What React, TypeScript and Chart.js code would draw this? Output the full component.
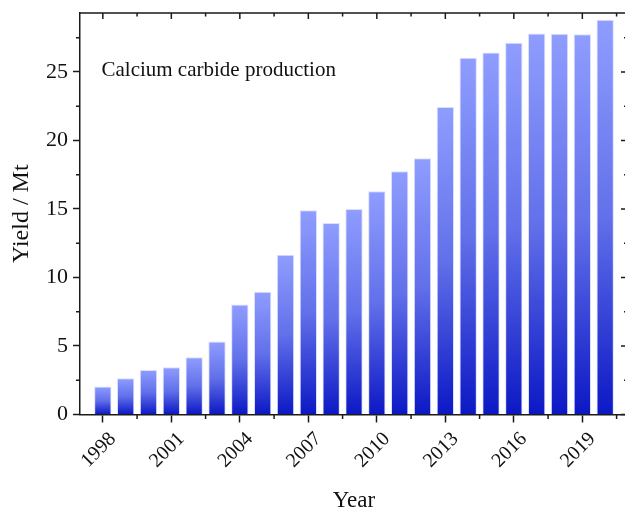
import React, { useEffect, useRef } from "react";
import { Chart, registerables } from "chart.js";

Chart.register(...registerables);

const years = [1998, 1999, 2000, 2001, 2002, 2003, 2004, 2005, 2006, 2007, 2008, 2009, 2010, 2011, 2012, 2013, 2014, 2015, 2016, 2017, 2018, 2019, 2020];
const production = [2.04, 2.64, 3.25, 3.44, 4.17, 5.33, 8.03, 8.95, 11.65, 14.9, 13.97, 15.0, 16.3, 17.75, 18.7, 22.44, 26.03, 26.42, 27.12, 27.8, 27.78, 27.75, 28.8];
const xTickYears = [1998, 2001, 2004, 2007, 2010, 2013, 2016, 2019];
const xMinorTicks = [1999.5, 2002.5, 2005.5, 2008.5, 2011.5, 2014.5, 2017.5, 2020.5];
const yTickValues = [0, 5, 10, 15, 20, 25];
const yMinorTicks = [2.5, 7.5, 12.5, 17.5, 22.5, 27.5];
const annotationText = "Calcium carbide production";
const xTitle = "Year";
const yTitle = "Yield / Mt";

const FONT = "'Liberation Serif', 'Times New Roman', serif";
const AXIS = "#1a1a1a";

const framePlugin = {
  id: "frame",
  afterDraw(chart: any) {
    const { ctx, chartArea: a, scales } = chart;
    const xs = scales.x;
    const ys = scales.y;
    ctx.save();
    ctx.strokeStyle = AXIS;
    ctx.lineWidth = 1.5;
    ctx.beginPath();
    ctx.moveTo(a.left, a.top);
    ctx.lineTo(a.right, a.top);
    ctx.moveTo(a.right, a.top);
    ctx.lineTo(a.right, a.bottom);
    xTickYears.forEach((v) => {
      const px = xs.getPixelForValue(v);
      ctx.moveTo(px, a.top);
      ctx.lineTo(px, a.top + 6);
    });
    xMinorTicks.forEach((v) => {
      const px = xs.getPixelForValue(v);
      ctx.moveTo(px, a.top);
      ctx.lineTo(px, a.top + 3.5);
      ctx.moveTo(px, a.bottom);
      ctx.lineTo(px, a.bottom + 4.5);
    });
    yTickValues.forEach((v) => {
      const py = ys.getPixelForValue(v);
      ctx.moveTo(a.right, py);
      ctx.lineTo(a.right - 7, py);
    });
    yMinorTicks.forEach((v) => {
      const py = ys.getPixelForValue(v);
      ctx.moveTo(a.right, py);
      ctx.lineTo(a.right - 4, py);
      ctx.moveTo(a.left, py);
      ctx.lineTo(a.left - 4, py);
    });
    ctx.stroke();
    ctx.fillStyle = "#111";
    ctx.font = `21px ${FONT}`;
    ctx.textBaseline = "alphabetic";
    ctx.textAlign = "left";
    ctx.fillText(annotationText, xs.getPixelForValue(1997.94), ys.getPixelForValue(24.7));
    ctx.restore();
  },
};

export default function App() {
  const ref = useRef<HTMLCanvasElement | null>(null);

  useEffect(() => {
    if (!ref.current) return;
    Chart.defaults.font.family = FONT;
    const chart = new Chart(ref.current, {
      type: "bar",
      data: {
        datasets: [
          {
            data: years.map((y, i) => ({ x: y, y: production[i] })),
            backgroundColor: (c: any) => {
              const ch = c.chart;
              if (!ch.chartArea || c.type !== "data") return "rgb(120,135,250)";
              const ys = ch.scales.y;
              const top = ys.getPixelForValue(c.parsed.y);
              const base = ys.getPixelForValue(0);
              const g = ch.ctx.createLinearGradient(0, top, 0, base);
              g.addColorStop(0, "rgb(143,157,255)");
              g.addColorStop(0.5, "rgb(98,112,234)");
              g.addColorStop(1, "rgb(12,24,196)");
              return g;
            },
            borderColor: "rgba(218,224,255,1)",
            borderWidth: 1,
            barPercentage: 0.76,
            categoryPercentage: 1,
          },
        ],
      },
      plugins: [framePlugin],
      options: {
        animation: false,
        responsive: false,
        layout: { padding: { top: 13, right: 4, left: 0, bottom: 0 } },
        plugins: { legend: { display: false }, tooltip: { enabled: false } },
        scales: {
          x: {
            type: "linear",
            min: 1997,
            max: 2021,
            offset: false,
            afterFit: (s: any) => {
              s.height = 97.5;
              s.paddingLeft = 0;
              s.paddingRight = 0;
              s.paddingTop = 0;
              s.paddingBottom = 0;
            },
            afterBuildTicks: (s: any) => {
              s.ticks = xTickYears.map((v) => ({ value: v }));
            },
            grid: {
              offset: false,
              drawOnChartArea: false,
              drawTicks: true,
              tickLength: 8,
              tickWidth: 1.5,
              tickColor: AXIS,
            },
            border: { display: true, color: AXIS, width: 1.5 },
            ticks: {
              autoSkip: false,
              minRotation: 45,
              maxRotation: 45,
              padding: 5,
              labelOffset: 10,
              color: "#111",
              font: { size: 20, family: FONT },
              callback: (v: any) => String(v),
            },
            title: {
              display: true,
              text: xTitle,
              color: "#111",
              font: { size: 23, family: FONT, lineHeight: 1 },
              padding: { top: 0, bottom: 0 },
            },
          },
          y: {
            min: 0,
            max: 29.3,
            afterFit: (s: any) => {
              s.width = 80;
              s.paddingLeft = 0;
              s.paddingRight = 0;
              s.paddingTop = 0;
              s.paddingBottom = 0;
            },
            afterBuildTicks: (s: any) => {
              s.ticks = yTickValues.map((v) => ({ value: v }));
            },
            grid: {
              drawOnChartArea: false,
              drawTicks: true,
              tickLength: 7,
              tickWidth: 1.5,
              tickColor: AXIS,
            },
            border: { display: true, color: AXIS, width: 1.5 },
            ticks: {
              padding: 5,
              color: "#111",
              font: { size: 22, family: FONT },
              callback: (v: any) => String(v),
            },
            title: {
              display: true,
              text: yTitle,
              color: "#111",
              font: { size: 24, family: FONT, lineHeight: 1 },
              padding: { top: 10, bottom: 0 },
            },
          },
        },
      },
    } as any);
    return () => chart.destroy();
  }, []);

  return (
    <div style={{ position: "absolute", left: 0, top: 0, width: 625, height: 512, overflow: "hidden", background: "#fff" }}>
      <canvas ref={ref} width={632} height={512} style={{ display: "block", width: 632, height: 512 }} />
    </div>
  );
}
